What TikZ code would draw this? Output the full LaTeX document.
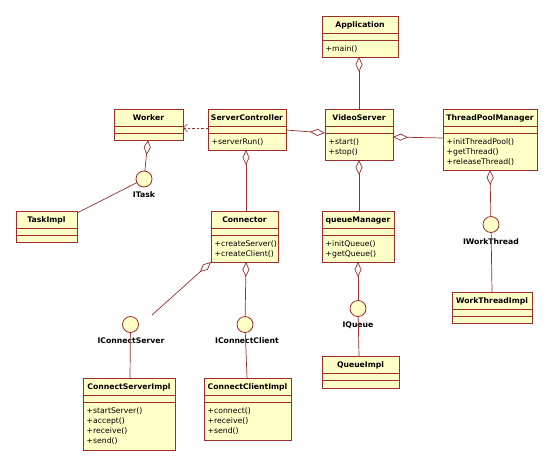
\documentclass[tikz,border=0pt]{standalone}
\usepackage{fontspec}
\setmainfont{DejaVu Sans}
\usetikzlibrary{arrows.meta}
\definecolor{lc}{RGB}{155,45,45}
\definecolor{fillc}{RGB}{255,255,200}
\tikzset{
  cls/.style={rectangle, draw=lc, fill=fillc, line width=0.8pt, inner sep=0pt, outer sep=0pt},
  clsline/.style={draw=lc, line width=0.8pt},
  clsname/.style={inner sep=0pt, font=\fontsize{7.7}{10}\selectfont\bfseries},
  clsops/.style={inner sep=0pt, font=\fontsize{7.7}{10}\selectfont},
  iface/.style={circle, draw=lc, fill=fillc, line width=0.8pt, minimum size=16pt, inner sep=0pt, outer sep=0pt},
  ilabel/.style={inner sep=0pt, font=\fontsize{7.7}{10}\selectfont\bfseries},
  conn/.style={draw=lc, line width=0.7pt},
  agg/.style={conn, -{Diamond[fill=white, length=15pt, width=7pt]}},
  dep/.style={conn, dashed, dash pattern=on 2.5pt off 2pt, -{Straight Barb[length=4pt, width=8pt]}}
}
\newcommand\classbox[7]{%
  \node[cls, minimum width={(#4-#2)*1pt}, minimum height={(#5-#3)*1pt}] (#1) at ({(#2+#4)/2},{(#3+#5)/2}) {};
  \draw[clsline] (#2,#3+17) -- (#4,#3+17) (#2,#3+24) -- (#4,#3+24);
  \node[clsname, anchor=base] (#1-t) at ({(#2+#4)/2},#3+11.5) {#6};
  \def\mylist{#7}%
  \ifx\mylist\empty\else
    \foreach \m [count=\i] in {#7} {\node[clsops, anchor=base west] (#1-m\i) at (#2+3.5,#3+24+10*\i+1) {\m};}%
  \fi
}
\begin{document}
\begin{tikzpicture}[x=1pt, y=-1pt]
\useasboundingbox (0,0) rectangle (553,466);
% classes
\classbox{app}{322}{16}{398}{57}{Application}{+main()}
\classbox{worker}{114}{109}{183}{140}{Worker}{}
\classbox{sc}{208}{109}{286}{150}{ServerController}{+serverRun()}
\classbox{vs}{325}{109}{393}{160}{VideoServer}{+start(),+stop()}
\classbox{tpm}{443}{109}{537}{170}{ThreadPoolManager}{+initThreadPool(),+getThread(),+releaseThread()}
\classbox{taskimpl}{16}{211}{77}{242}{TaskImpl}{}
\classbox{conn}{211}{211}{278}{262}{Connector}{+createServer(),+createClient()}
\classbox{qm}{322}{211}{394}{262}{queueManager}{+initQueue(),+getQueue()}
\classbox{wti}{452}{292}{532}{323}{WorkThreadImpl}{}
\classbox{csi}{83}{378}{175}{450}{ConnectServerImpl}{+startServer(),+accept(),+receive(),+send()}
\classbox{cci}{204}{378}{291}{440}{ConnectClientImpl}{+connect(),+receive(),+send()}
\classbox{qi}{322}{356}{399}{388}{QueueImpl}{}
% interfaces
\node[iface] (itask) at (144,179) {};
\node[iface] (iwt) at (491,224.5) {};
\node[iface] (iq) at (358,308.5) {};
\node[iface] (ics) at (130.5,324.5) {};
\node[iface] (icc) at (245,324.5) {};
% interface labels
\node[ilabel] (itask-l) at (144,195) {ITask};
\node[ilabel] (iwt-l) at (491,242) {IWorkThread};
\node[ilabel] (iq-l) at (358,325) {IQueue};
\node[ilabel] (ics-l) at (131,341) {IConnectServer};
\node[ilabel] (icc-l) at (247,341) {IConnectClient};
% free end
\coordinate (cfree) at (152,315);
% connectors
\draw[agg] (vs.north -| 359,0) -- (app.south -| 359,0);
\draw[dep] (sc.west |- 0,128) -- (worker.east |- 0,128);
\draw[agg] (sc.east |- 0,130) -- (vs.west |- 0,133);
\draw[agg] (tpm.west |- 0,138) -- (vs.east |- 0,137);
\draw[agg] (itask) -- (worker.south -| 148,0);
\draw[conn] (itask) -- (taskimpl.east |- 0,213);
\draw[agg] (conn.north -| 246,0) -- (sc.south -| 246,0);
\draw[agg] (qm.north -| 359,0) -- (vs.south -| 359,0);
\draw[agg] (iwt) -- (tpm.south -| 490,0);
\draw[conn] (iwt) -- (wti.north -| 492,0);
\draw[agg] (cfree) -- (conn.south west);
\draw[agg] (icc) -- (conn.south -| 246,0);
\draw[conn] (ics) -- (csi.north -| 130,0);
\draw[conn] (icc) -- (cci.north -| 247,0);
\draw[agg] (iq) -- (qm.south -| 358,0);
\draw[conn] (iq) -- (qi.north -| 359,0);
\end{tikzpicture}
\end{document}
